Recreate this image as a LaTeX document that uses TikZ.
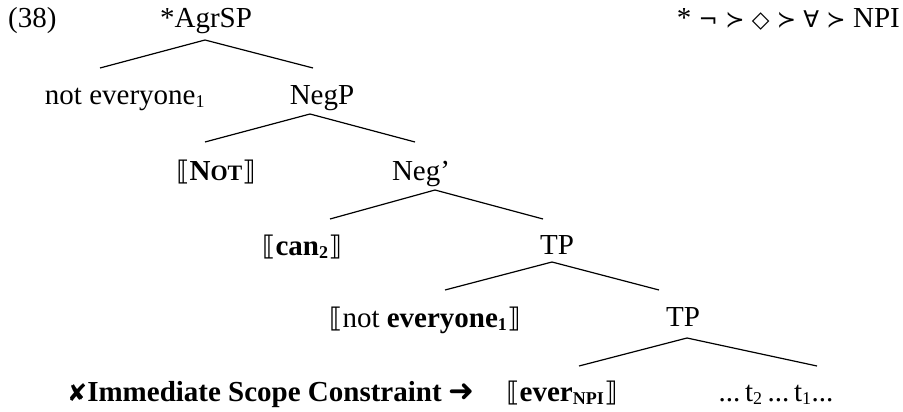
\documentclass[tikz,border=0pt]{standalone}
\usepackage{fontspec}
\setmainfont{Liberation Serif}
\newfontfamily\symf{DejaVu Sans}
\newcommand{\lbr}{{\symf\fontsize{27}{30}\selectfont ⟦}}
\newcommand{\rbr}{{\symf\fontsize{27}{30}\selectfont ⟧}}
\newcommand{\ssub}[1]{\textsubscript{\fontsize{18}{18}\selectfont #1}}
\begin{document}
\begin{tikzpicture}[x=1pt,y=-1pt,
  lab/.style={anchor=base,inner sep=0pt,font=\fontsize{29}{34}\selectfont},
  br/.style={line width=1.2pt}]
\useasboundingbox (0,0) rectangle (903,412);
% labels
\node[lab,anchor=base west] (ex) at (8,28) {(38)};
\node[lab,anchor=base east] (form) at (900,28) {*{\symf\fontsize{23}{23}\selectfont\ ¬\ ≻\ ◇\ ≻\ ∀\ ≻\ }NPI};
\node[lab] (agr) at (206,28) {*AgrSP};
\node[lab] (ne) at (125,104) {not everyone\ssub{1}};
\node[lab] (negp) at (322,104) {NegP};
\node[lab] (not) at (216,180) {\lbr{\bfseries N\fontsize{22}{22}\selectfont OT}\rbr};
\node[lab] (negb) at (421,180) {Neg’};
\node[lab] (can) at (302,255) {\lbr{\bfseries can\ssub{2}}\rbr};
\node[lab] (tp1) at (557,254) {TP};
\node[lab] (ne2) at (425,327) {\lbr not {\bfseries everyone\ssub{1}}\rbr};
\node[lab] (tp2) at (683,326) {TP};
\node[lab] (ever) at (562,401) {\lbr{\bfseries ever\ssub{NPI}}\rbr};
\node[lab] (tr) at (776,401) {...\,t\ssub{2}\,...\,t\ssub{1}...};
\node[lab,anchor=base west] (isc) at (67,401) {{\symf\fontsize{24}{24}\selectfont ✘}\textbf{Immediate Scope Constraint}\ {\symf\fontsize{31}{31}\selectfont ➜}};
% branch points
\coordinate (a0) at (205,40);  \coordinate (l0) at (100,68);  \coordinate (r0) at (313,68);
\coordinate (a1) at (310,114); \coordinate (l1) at (205,142); \coordinate (r1) at (415,142);
\coordinate (a2) at (435,190); \coordinate (l2) at (330,219); \coordinate (r2) at (543,219);
\coordinate (a3) at (552,262); \coordinate (l3) at (445,290); \coordinate (r3) at (659,290);
\coordinate (a4) at (687,338); \coordinate (l4) at (579,366); \coordinate (r4) at (817,366);
\draw[br] (l0) -- (a0) -- (r0);
\draw[br] (l1) -- (a1) -- (r1);
\draw[br] (l2) -- (a2) -- (r2);
\draw[br] (l3) -- (a3) -- (r3);
\draw[br] (l4) -- (a4) -- (r4);
\end{tikzpicture}
\end{document}
